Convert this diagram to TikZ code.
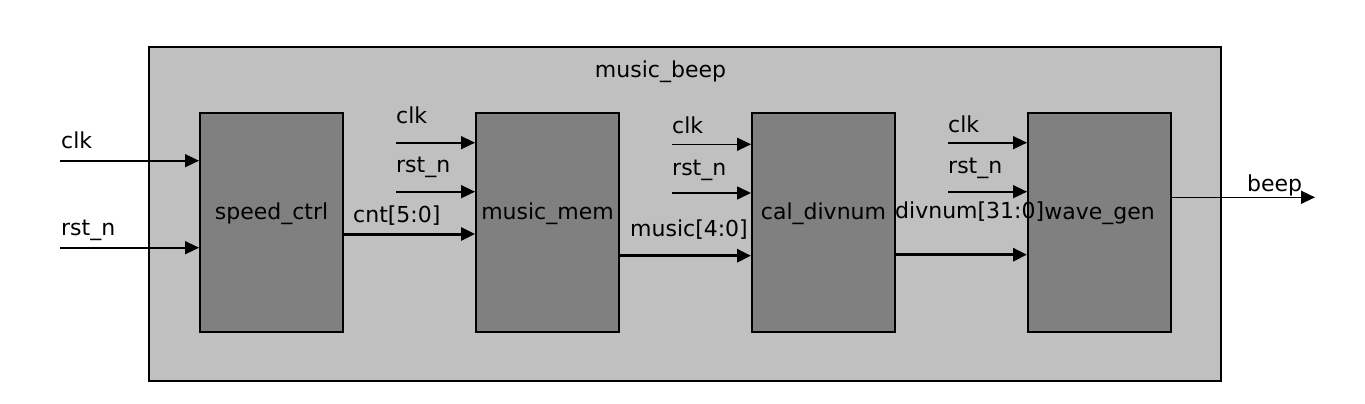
\documentclass[tikz,border=0pt]{standalone}
\usepackage{fontspec}
\setmainfont{DejaVu Sans}
\usepackage{xcolor}
\usetikzlibrary{arrows.meta}
\definecolor{topgray}{RGB}{192,192,192}
\definecolor{blkgray}{RGB}{128,128,128}
\tikzset{
  box/.style={draw,line width=2pt,fill=blkgray,minimum width=143pt,minimum height=219pt,inner sep=0pt},
  sig/.style={line width=1.6pt,-{Triangle[length=14pt,width=13pt]}},
  bus/.style={line width=3pt,-{Triangle[length=14pt,width=13pt]}},
  lbl/.style={anchor=base west,inner sep=0pt,font=\fontsize{22}{26}\selectfont}
}

\begin{document}
\begin{tikzpicture}[x=1pt,y=-1pt]
    \useasboundingbox (0,0) rectangle (1365,404);

    % Top module
    \node[draw,line width=1.5pt,fill=topgray,minimum width=1072pt,minimum height=334pt] (top) at (685,214) {};
    \node[lbl,anchor=base] (title) at (660.5,77.7) {music\_beep};

    % Sub modules
    \node[box] (speed) at (271.5,222.5) {};
    \node[box] (mem) at (547.5,222.5) {};
    \node[box] (div) at (823.5,222.5) {};
    \node[box] (wave) at (1099.5,222.5) {};
    \node[lbl,anchor=base] (speedtxt) at (271.5,219) {speed\_ctrl};
    \node[lbl,anchor=base] (memtxt) at (547.5,219) {music\_mem};
    \node[lbl,anchor=base] (divtxt) at (823.5,219) {cal\_divnum};
    \node[lbl,anchor=base] (wavetxt) at (1099.5,219) {wave\_gen};

    % Inputs of speed_ctrl
    \coordinate (clk0) at (60,160.7);
    \coordinate (rst0) at (60,247.7);
    \node[lbl] (clk0lbl) at (61,148.3) {clk};
    \node[lbl] (rst0lbl) at (61,235) {rst\_n};
    \draw[sig] (clk0) -- (clk0 -| speed.west);
    \draw[sig] (rst0) -- (rst0 -| speed.west);

    % Inputs of music_mem
    \coordinate (clk1) at (396,142.7);
    \coordinate (rst1) at (396,191.7);
    \node[lbl] (clk1lbl) at (396,123) {clk};
    \node[lbl] (rst1lbl) at (396,172.5) {rst\_n};
    \draw[sig] (clk1) -- (clk1 -| mem.west);
    \draw[sig] (rst1) -- (rst1 -| mem.west);

    % Inputs of cal_divnum
    \coordinate (clk2) at (672,144.3);
    \coordinate (rst2) at (672,193);
    \node[lbl] (clk2lbl) at (672,133) {clk};
    \node[lbl] (rst2lbl) at (672,175) {rst\_n};
    \draw[sig] (clk2) -- (clk2 -| div.west);
    \draw[sig] (rst2) -- (rst2 -| div.west);

    % Inputs of wave_gen
    \coordinate (clk3) at (948,142.7);
    \coordinate (rst3) at (948,191.7);
    \node[lbl] (clk3lbl) at (948,132) {clk};
    \node[lbl] (rst3lbl) at (948,173) {rst\_n};
    \draw[sig] (clk3) -- (clk3 -| wave.west);
    \draw[sig] (rst3) -- (rst3 -| wave.west);

    % Buses between the modules
    \draw[bus] ([yshift=-11.5pt]speed.east) -- ([yshift=-11.5pt]mem.west);
    \node[lbl] (cntlbl) at (353,222) {cnt[5:0]};
    \draw[bus] ([yshift=-33.2pt]mem.east) -- ([yshift=-33.2pt]div.west);
    \node[lbl] (musiclbl) at (630,236.7) {music[4:0]};
    \draw[bus] ([yshift=-32.2pt]div.east) -- ([yshift=-32.2pt]wave.west);
    \node[lbl] (divnumlbl) at (895,218.3) {divnum[31:0]};

    % Output
    \coordinate (beep) at (1315,197.3);
    \draw[sig] ([yshift=25.2pt]wave.east) -- (beep);
    \node[lbl] (beeplbl) at (1247,191.7) {beep};

\end{tikzpicture}
\end{document}
